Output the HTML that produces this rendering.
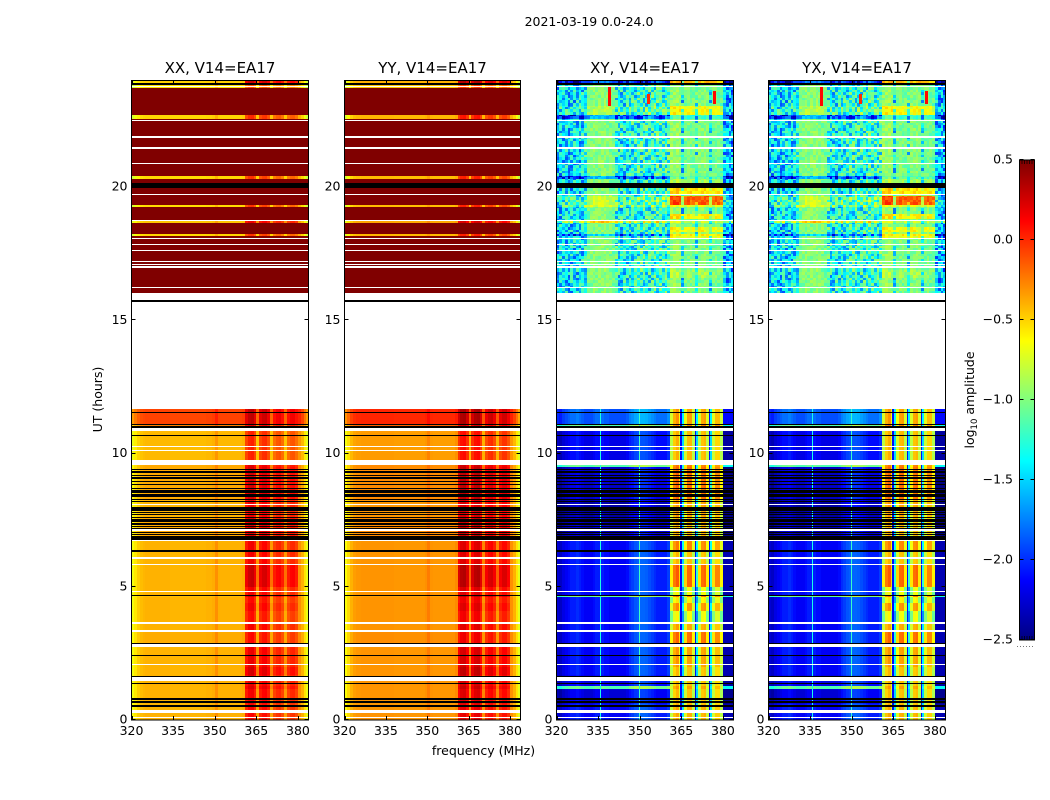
<!DOCTYPE html>
<html lang="en">
<head>
<meta charset="utf-8">
<title>2021-03-19 0.0-24.0</title>
<style>
html,body{margin:0;padding:0;background:#fff;width:1050px;height:800px;overflow:hidden}
svg{display:block}
text{font-family:"DejaVu Sans","Liberation Sans",sans-serif;fill:#000;font-size:12.5px}
.title{font-size:15px;text-anchor:middle}
</style>
</head>
<body>
<svg id="fig" xmlns="http://www.w3.org/2000/svg" width="1050" height="800" viewBox="0 0 1050 800">
<defs>
<clipPath id="clip-0"><rect x="131.5" y="80.5" width="177" height="639.5"/></clipPath>
<clipPath id="clip-1"><rect x="344.5" y="80.5" width="176" height="639.5"/></clipPath>
<clipPath id="clip-2"><rect x="556.5" y="80.5" width="177" height="639.5"/></clipPath>
<clipPath id="clip-3"><rect x="768.5" y="80.5" width="177" height="639.5"/></clipPath>
</defs>
<text x="589" y="26" text-anchor="middle">2021-03-19 0.0-24.0</text>
<text class="title" x="220" y="73">XX, V14=EA17</text>
<text class="title" x="432.5" y="73">YY, V14=EA17</text>
<text class="title" x="645" y="73">XY, V14=EA17</text>
<text class="title" x="857" y="73">YX, V14=EA17</text>
<text x="483.5" y="755" text-anchor="middle">frequency (MHz)</text>
<text transform="translate(102,399.5) rotate(-90)" text-anchor="middle">UT (hours)</text>
<text transform="translate(974,400) rotate(-90)" text-anchor="middle">log<tspan font-size="8.5" dy="3">10</tspan><tspan dy="-3"> amplitude</tspan></text>
<line x1="1017" x2="1035" y1="646.5" y2="646.5" stroke="#777" stroke-width="1" stroke-dasharray="1 2"/>
<g id="panels"></g>
<g id="colorbar"></g>
</svg>
<script>
// ---------- axis tick data ----------
const freqTicks = [320, 335, 350, 365, 380];
const utTicks = [0, 5, 10, 15, 20];
const colorbarTicks = [0.5, 0.0, -0.5, -1.0, -1.5, -2.0, -2.5];
const colorbarTickLabels = ["0.5", "0.0", "\u22120.5", "\u22121.0", "\u22121.5", "\u22122.0", "\u22122.5"];
const panelNames = ["xx", "yy", "xy", "yx"];

// ---------- mean log10 amplitude per 1 MHz channel, 320..383 MHz ----------
const spectrumXX = [-0.66,-0.56,-0.48,-0.43,-0.41,-0.40,-0.40,-0.40,-0.40,-0.40,-0.40,-0.40,-0.40,-0.40,-0.41,-0.41,-0.41,-0.41,-0.41,-0.41,-0.41,-0.41,-0.41,-0.41,-0.41,-0.41,-0.41,-0.40,-0.40,-0.38,-0.30,-0.39,-0.40,-0.40,-0.40,-0.40,-0.40,-0.40,-0.40,-0.40,-0.38,0.02,0.12,0.14,0.02,-0.35,0.02,0.09,0.10,0.00,-0.35,-0.10,-0.03,-0.01,-0.10,-0.35,-0.10,-0.03,-0.02,-0.10,-0.30,-0.40,-0.55,-0.68];
const spectrumYY = [-0.64,-0.52,-0.40,-0.34,-0.32,-0.32,-0.31,-0.31,-0.31,-0.31,-0.31,-0.31,-0.31,-0.31,-0.31,-0.31,-0.31,-0.31,-0.32,-0.32,-0.32,-0.32,-0.32,-0.32,-0.32,-0.32,-0.32,-0.32,-0.32,-0.30,-0.24,-0.31,-0.32,-0.32,-0.32,-0.32,-0.32,-0.32,-0.32,-0.32,-0.28,0.08,0.18,0.20,0.08,-0.30,0.08,0.18,0.20,0.06,-0.30,0.00,0.08,0.10,0.00,-0.30,0.00,0.08,0.08,-0.02,-0.30,-0.40,-0.55,-0.70];
const spectrumCrossNight = [-2.25,-2.30,-2.20,-2.15,-2.10,-2.05,-2.05,-2.00,-2.05,-2.10,-2.15,-2.15,-2.15,-2.10,-2.05,-2.05,-2.05,-2.10,-2.10,-2.15,-2.15,-2.15,-2.15,-2.15,-2.15,-2.10,-2.00,-1.95,-1.88,-1.85,-1.83,-1.83,-1.85,-1.90,-1.95,-2.00,-2.05,-2.05,-2.05,-2.05,-1.95,-0.80,-0.45,-0.35,-0.72,-1.45,-0.72,-0.40,-0.38,-0.80,-1.45,-0.78,-0.42,-0.38,-0.78,-1.45,-0.75,-0.48,-0.48,-0.82,-2.35,-2.35,-2.35,-2.35];
const spectrumCrossDay = [-1.45,-1.38,-1.38,-1.38,-1.38,-1.38,-1.38,-1.36,-1.36,-1.33,-1.22,-1.02,-0.97,-0.95,-0.95,-0.95,-0.93,-0.93,-0.95,-0.98,-1.02,-1.18,-1.28,-1.28,-1.28,-1.28,-1.25,-1.22,-1.22,-1.20,-1.18,-1.18,-1.18,-1.18,-1.18,-1.16,-1.16,-1.16,-1.16,-1.16,-1.14,-0.92,-0.90,-0.90,-0.92,-1.30,-1.00,-0.98,-0.98,-1.00,-1.20,-0.97,-0.95,-0.95,-0.97,-1.25,-1.02,-1.00,-1.02,-1.05,-1.45,-1.50,-1.50,-1.55];
const windowStartMHz = 361;
const windowEndMHz = 380;

// ---------- UT bands: start hour plus level offsets (outside / inside the 361-380 MHz window) ----------
const bandStart   = [0.00,0.60,1.15,1.28,1.70,2.00,2.85,3.30,3.64,4.10,4.40,4.62,4.70,5.00,5.85,6.30,6.74,7.60,8.30,9.50,9.58,10.95,11.10,11.68,15.70,16.60,16.90,18.05,18.15,18.23,18.30,18.50,18.66,18.75,18.80,19.00,19.24,19.33,19.67,19.75,20.15,20.30,20.42,22.55,22.72,23.05,23.70,23.90];
const parallelOut = [0,0,0,0,0,0,0.02,0,0,0,0,-0.03,0,0,0,0,0.03,0,0.03,0.03,-0.02,0.15,0.33,null,2,2,2,2,-0.10,2,2,2,-0.05,2,2,2,-0.12,2,2,2,2,-0.12,2,-0.10,2,2,-0.15,-0.08];
const parallelIn  = [0,0.03,0.10,0.05,0.12,0.05,-0.02,0.02,-0.03,0.03,-0.02,0.12,0.03,0.15,0.03,0.03,0.10,0.05,0.12,0.08,-0.10,0.05,0.18,null,2,2,2,2,-0.15,2,2,2,0.05,2,2,2,-0.15,2,2,2,2,-0.15,2,-0.12,2,2,-0.25,0.15];
const crossOut    = [0,-0.10,1.00,-0.05,0,0,0,0,0,0,0,1.05,0,0,0,0,-0.20,-0.25,-0.15,1.00,-0.05,1.00,0.25,null,0,0,0,-0.05,-0.50,0,0,0,0.50,0,0,0,0.25,0.20,0,0,0,-0.60,0,-0.60,0.12,0,0,-0.80];
const crossIn     = [0,-0.05,0.05,-0.05,-0.05,0.05,0.20,0.02,-0.25,0.08,-0.20,0.15,-0.25,0.22,-0.05,0.12,0,0.05,0.20,0.15,-0.03,0.15,0.05,null,0,0.10,0,0.30,0.40,0.10,0.35,0,0.20,0,0.40,0,0.30,0.85,0.10,0.45,0.10,-0.10,0,-0.20,0.35,0,0,0.55];

// ---------- flagged data ----------
const whiteStart = [0.06,0.28,1.45,2.05,2.73,3.29,3.62,4.82,5.83,6.06,6.72,7.11,8.08,9.58,10.11,10.26,10.83,15.76,16.22,16.98,17.07,17.18,17.61,17.84,18.06,18.72,19.71,20.87,21.44,21.86,22.47,23.76];
const whiteEnd   = [0.10,0.38,1.60,2.09,2.84,3.37,3.66,4.86,5.87,6.10,6.76,7.15,8.12,9.76,10.15,10.30,10.95,16.04,16.26,17.02,17.11,17.22,17.65,17.88,18.10,18.76,19.75,20.91,21.52,21.90,22.51,23.79];
const blackHours = [0.53,0.67,0.79,1.36,1.63,2.41,2.86,4.66,6.34,6.78,6.83,6.88,6.95,7.04,7.18,7.25,7.35,7.45,7.50,7.60,7.70,7.79,7.88,7.95,8.20,8.28,8.38,8.45,8.53,8.60,8.70,8.85,8.95,9.08,9.17,9.28,9.33,9.41,10.67,11.00,11.09,11.54,23.87];
const blackSpanStart = [15.70, 19.95];
const blackSpanEnd   = [15.76, 20.15];

// ---------- cross-hand narrow spikes and gap lines ----------
const spikeFreq  = [335.8, 349.9, 364.9, 370.2, 375.2, 339.0, 353.3, 376.9];
const spikeStart = [0.00, 0.00, 0.00, 0.00, 0.00, 23.05, 23.10, 23.10];
const spikeEnd   = [11.68, 11.68, 11.68, 11.68, 11.68, 23.80, 23.50, 23.60];
const spikeLevel = [-1.30, -1.20, -2.10, -2.10, -2.10, 0.10, 0.00, 0.10];

// ---------- cross-hand channel-to-channel scatter after 15.7 UT (digit 5 = no offset) ----------
const scatterRows = [
"4173958206613847295018364720951386274059183346720819573624108957",
"7205184639920571346882150947362058194736620185974302861759340261",
"1864730925487162093574816205739146028375941062837159048263715940",
"9350267148036495812607394851260374985162037498210563749816025374",
"2718405963751840296348571092638471509263648750139286401573928640",
"6049372815294637081592736048159427360581942703685194027368519203",
"3581926074860319527460183952746091835274609138527046913825740691",
"8270415396127589304618925730461892057346180925374618290537416829",
"0496158273953602471839504726183950472168395047261839520476183950",
"5137840629268413957026814935702681493570268149537026184953702618",
"7642093185520937461820574913682047159362084715926308471592630847",
"1329574860746182935067291854036729185403672918540367291845036729",
"9085136427316740982561340897256134089725613408972561340987256134",
"4716028593859273140657918230465791823046579182304657918203465791",
"2593761048601845729316048297531604829753160482975316048975231604",
"6820349175473906158274539106827453910682745391068274539168027453"
];
const scatterRowShift = [0, 23, 7, 41, 13, 58, 31, 4, 49, 17, 36, 2, 55, 27, 10, 44, 20];
const scatterStepHours = 0.1;
const scatterUpLevel = 0.07;
const scatterDownLevel = 0.10;

// ---------- layout / axis functions ----------
const SVGNS = "http://www.w3.org/2000/svg";
const panelLeft = [131.5, 344.5, 556.5, 768.5];
const panelWidth = [177, 176, 177, 177];
const axisTop = 80.5, axisBottom = 720;
const freqMin = 320, freqMax = 383.8, utMax = 24;
const cbarLeft = 1019.5, cbarRight = 1034.5, cbarTop = 160, cbarBottom = 640;
const levelMin = -2.5, levelMax = 0.5;

function xScale(p, f){ return panelLeft[p] + (f - freqMin) * panelWidth[p] / (freqMax - freqMin); }
function yScale(h){ return axisBottom - h * (axisBottom - axisTop) / utMax; }
function cbarScale(v){ return cbarBottom - (v - levelMin) * (cbarBottom - cbarTop) / (levelMax - levelMin); }
function clamp01(v){ return Math.max(0, Math.min(1, v)); }
function jet(v){
  const t = clamp01((v - levelMin) / (levelMax - levelMin));
  const r = clamp01(1.5 - Math.abs(4 * t - 3));
  const g = clamp01(1.5 - Math.abs(4 * t - 2));
  const b = clamp01(1.5 - Math.abs(4 * t - 1));
  return "rgb(" + Math.round(r * 255) + "," + Math.round(g * 255) + "," + Math.round(b * 255) + ")";
}
function make(parent, tag, props){
  const el = document.createElementNS(SVGNS, tag);
  for (const k in props) el.setAttribute(k, props[k]);
  parent.appendChild(el);
  return el;
}
function cell(group, p, f0, f1, h0, h1, fill){
  const top = Math.round(yScale(h1));
  const bottom = Math.max(top + 1, Math.round(yScale(h0)));
  const left = Math.round(xScale(p, f0));
  const right = Math.max(left + 1, Math.round(xScale(p, f1)));
  return make(group, "rect", {x: left, y: top, width: right - left, height: bottom - top, fill: fill, "shape-rendering": "crispEdges"});
}
function isCross(p){ return p >= 2; }
function spectrumFor(p, hour){
  if (p === 0) return spectrumXX;
  if (p === 1) return spectrumYY;
  return hour >= 15 ? spectrumCrossDay : spectrumCrossNight;
}

function drawBand(group, p, b){
  const h0 = bandStart[b];
  const h1 = b + 1 < bandStart.length ? bandStart[b + 1] : utMax;
  if (parallelOut[b] === null) return;
  const outLevel = isCross(p) ? crossOut[b] : parallelOut[b];
  const inLevel = isCross(p) ? crossIn[b] : parallelIn[b];
  const spec = spectrumFor(p, h0);
  const textured = isCross(p) && h0 >= 15;
  let top = h0;
  while (top < h1 - 1e-6) {
    const next = textured ? Math.min(h1, top + scatterStepHours) : h1;
    const rowIndex = Math.floor(top / scatterStepHours);
    const row = scatterRows[rowIndex % scatterRows.length];
    const shift = scatterRowShift[rowIndex % scatterRowShift.length];
    for (let i = 0; i < spec.length; i++) {
      const f = freqMin + i;
      let v = spec[i] + (f >= windowStartMHz && f < windowEndMHz ? inLevel : outLevel);
      if (textured) {
        const amp = spec[i] < -1.05 ? 1 : 0.3;
        const d = Number(row.charAt((i + shift) % row.length)) - 5;
        v += d * (d > 0 ? scatterUpLevel : scatterDownLevel) * amp;
      }
      const rect = cell(group, p, f, f + 1, top, next, jet(v));
      
      
    }
    top = next;
  }
}

function drawPanel(root, p){
  const g = make(root, "g", {});
  
  
  const heat = make(g, "g", {"clip-path": "url(#clip-" + p + ")"});
  
  
  for (let b = 0; b < bandStart.length; b++) drawBand(heat, p, b);
  if (isCross(p)) {
    spikeFreq.forEach(function(f, i){
      const half = spikeStart[i] >= 15 ? 0.5 : 0.22;
      const s = cell(heat, p, f - half, f + half, spikeStart[i], spikeEnd[i], jet(spikeLevel[i]));
      
      
    });
  }
  whiteStart.forEach(function(h, i){
    const s = cell(heat, p, freqMin, freqMax, h, whiteEnd[i], "#fff");
    
    
  });
  blackHours.forEach(function(h){
    const s = cell(heat, p, freqMin, freqMax, h - 0.025, h + 0.025, "#000");
    
    
  });
  blackSpanStart.forEach(function(h, i){
    const s = cell(heat, p, freqMin, freqMax, h, blackSpanEnd[i], "#000");
    
    
  });
  const left = panelLeft[p], right = left + panelWidth[p];
  freqTicks.forEach(function(f){
    const x = Math.round(xScale(p, f)) + 0.5;
    const t1 = make(g, "line", {x1: x, x2: x, y1: axisBottom, y2: axisBottom - 4, stroke: "#000"});
    
    
    const t2 = make(g, "line", {x1: x, x2: x, y1: axisTop, y2: axisTop + 4, stroke: "#000"});
    
    
    const lab = make(g, "text", {x: xScale(p, f), y: 735, "text-anchor": "middle"});
    lab.textContent = String(f);
    
    
  });
  utTicks.forEach(function(h){
    const y = Math.round(yScale(h)) - 0.5;
    const t1 = make(g, "line", {x1: left, x2: left + 4, y1: y, y2: y, stroke: "#000"});
    
    
    const t2 = make(g, "line", {x1: right, x2: right - 4, y1: y, y2: y, stroke: "#000"});
    
    
    const lab = make(g, "text", {x: left - 4, y: yScale(h) + 3.5, "text-anchor": "end"});
    lab.textContent = String(h);
    
    
  });
  const frame = make(g, "rect", {x: left, y: axisTop, width: panelWidth[p], height: axisBottom - axisTop, fill: "none", stroke: "#000", "stroke-width": 1, "shape-rendering": "crispEdges"});
  
  
}

function drawColorbar(root){
  const steps = 240;
  for (let i = 0; i < steps; i++) {
    const v0 = levelMin + (levelMax - levelMin) * i / steps;
    const v1 = levelMin + (levelMax - levelMin) * (i + 1) / steps;
    const s = make(root, "rect", {x: cbarLeft, y: cbarScale(v1), width: cbarRight - cbarLeft, height: cbarScale(v0) - cbarScale(v1) + 0.4, fill: jet((v0 + v1) / 2), "shape-rendering": "crispEdges"});
    
    
  }
  colorbarTicks.forEach(function(v, i){
    const y = Math.round(cbarScale(v)) - 0.5;
    const t1 = make(root, "line", {x1: cbarLeft, x2: cbarLeft + 4, y1: y, y2: y, stroke: "#000"});
    
    
    const t2 = make(root, "line", {x1: cbarRight, x2: cbarRight - 4, y1: y, y2: y, stroke: "#000"});
    
    
    const lab = make(root, "text", {x: 1013, y: cbarScale(v) + 3.5, "text-anchor": "end"});
    lab.textContent = colorbarTickLabels[i];
    
    
  });
  for (let k = 0; k < 5; k++) {
    const x = cbarLeft + 2.5 + k * 2.5;
    const a = make(root, "line", {x1: x, x2: x, y1: cbarTop, y2: cbarTop + 4, stroke: "#000", "stroke-width": 0.7});
    
    
    const c = make(root, "line", {x1: x, x2: x, y1: cbarBottom, y2: cbarBottom - 4, stroke: "#000", "stroke-width": 0.7});
    
    
  }
  const frame = make(root, "rect", {x: cbarLeft, y: cbarTop, width: cbarRight - cbarLeft, height: cbarBottom - cbarTop, fill: "none", stroke: "#000", "shape-rendering": "crispEdges"});
  
  
}

const panelsRoot = document.getElementById("panels");
panelNames.forEach(function(_, p){ drawPanel(panelsRoot, p); });
drawColorbar(document.getElementById("colorbar"));
</script>
</body>
</html>
